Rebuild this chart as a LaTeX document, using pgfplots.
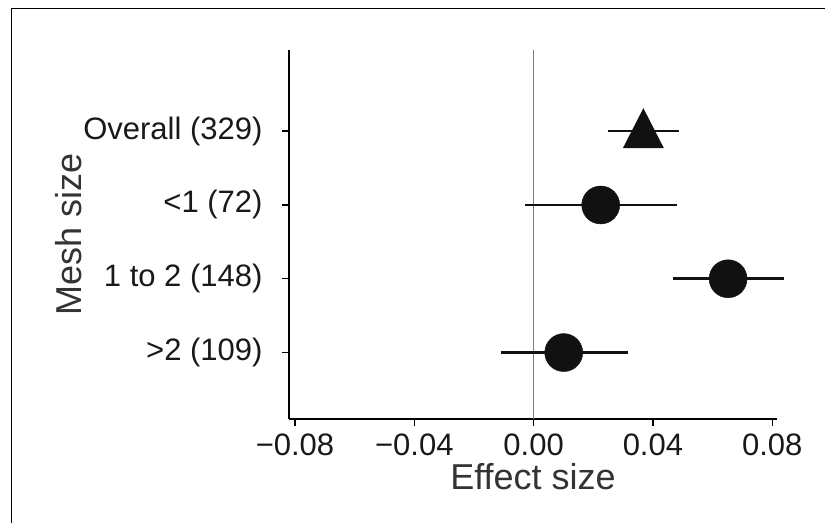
\documentclass[border=0pt]{standalone}
\usepackage{pgfplots}
\pgfplotsset{compat=1.18}
\usepackage{fontspec}
\setmainfont{Liberation Sans}
\definecolor{ink}{HTML}{111111}
\definecolor{zline}{HTML}{808080}
\pgfdeclareplotmark{gtri}{%
  \pgfpathmoveto{\pgfqpoint{0bp}{23bp}}%
  \pgfpathlineto{\pgfqpoint{-20.5bp}{-17bp}}%
  \pgfpathlineto{\pgfqpoint{20.5bp}{-17bp}}%
  \pgfpathclose\pgfusepathqfill}
\begin{document}
\begin{tikzpicture}[x=1bp,y=1bp]
\useasboundingbox (0,0) rectangle (825,523);
\draw[line width=1bp] (11,-5) -- (11,514) -- (830,514);
\begin{axis}[
  at={(289bp,104bp)}, anchor=south west,
  scale only axis, width=488bp, height=369bp,
  xmin=-0.082, xmax=0.0816, ymin=0.1, ymax=5.1,
  axis x line*=bottom, axis y line*=left,
  axis line style={-, line width=1.8bp, black},
  clip=false, scaled x ticks=false,
  xtick={-0.08,-0.04,0,0.04,0.08},
  xticklabels={−0.08,−0.04,0.00,0.04,0.08},
  ytick={1,2,3,4},
  yticklabels={>2 (109),1 to 2 (148),<1 (72),Overall (329)},
  tick align=outside, major tick length=7bp,
  tick style={line width=1.4bp, black},
  ticklabel style={font=\fontsize{31bp}{37bp}\selectfont, text=black!90},
  yticklabel style={anchor=east, xshift=-16bp},
  xticklabel style={anchor=north, yshift=-4bp},
  xlabel={Effect size}, ylabel={Mesh size},
  label style={font=\fontsize{36bp}{43bp}\selectfont, text=black!80},
  xlabel style={at={(axis description cs:0.5,-0.1924)}, anchor=base},
  ylabel style={at={(axis description cs:-0.4242,0.5)}, anchor=base},
]
\addplot[zline, line width=1.6bp] coordinates {(0,0.1) (0,5.1)};
\addplot[only marks, mark=none,
  error bars/.cd, x dir=both, x explicit, error mark=none,
  error bar style={draw=ink, line width=2.6bp}]
  table[x=est, y=pos, x error plus=ep, x error minus=em] {
est     pos ep     em
0.0368  4   0.0121 0.0118
0.0225  3   0.0256 0.0253
0.0652  2   0.0186 0.0186
0.0101  1   0.0214 0.0211
};
\addplot[only marks, mark=*, mark size=19bp, ink] table[x=est, y=pos] {
est     pos
0.0225  3
0.0652  2
0.0101  1
};
\addplot[only marks, mark=gtri, ink] coordinates {(0.0368,4)};
\end{axis}
\end{tikzpicture}
\end{document}
